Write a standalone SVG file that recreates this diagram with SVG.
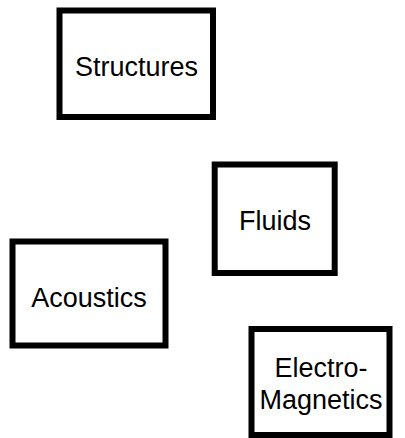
<svg xmlns="http://www.w3.org/2000/svg" width="405" height="438" viewBox="0 0 405 438">
<style>
.box{fill:#fff;stroke:#000;stroke-width:6}
.t{font-family:"Liberation Sans",Arial,sans-serif;font-size:27px;fill:#000;text-anchor:middle}
</style>
<rect width="405" height="438" fill="#fff"/>
<g id="structures"><rect class="box" x="59.5" y="10.5" width="153.5" height="106.5"/><text class="t" x="136.5" y="76">Structures</text></g>
<g id="fluids"><rect class="box" x="214.7" y="164.5" width="120" height="108.5"/><text class="t" x="275" y="230">Fluids</text></g>
<g id="acoustics"><rect class="box" x="12.5" y="241.5" width="153" height="104"/><text class="t" x="89" y="307">Acoustics</text></g>
<g id="electromagnetics"><rect class="box" x="251.5" y="329" width="138" height="106"/><text class="t" x="321" y="377">Electro-</text><text class="t" x="321" y="409">Magnetics</text></g>
<g id="connectors"></g>
</svg>
